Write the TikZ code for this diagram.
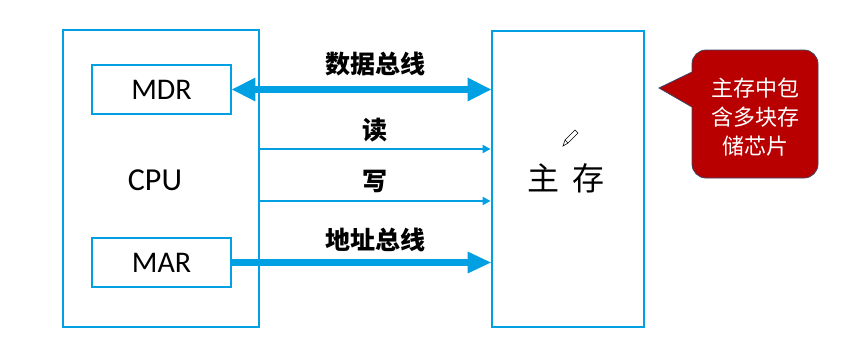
\documentclass[tikz,border=0pt]{standalone}
\usepackage{fontspec}
\setmainfont{Carlito}
\newfontfamily\cjk{Noto Sans CJK SC}
\usetikzlibrary{arrows.meta}
\definecolor{busblue}{RGB}{0,160,226}
\definecolor{calloutred}{RGB}{185,0,0}
\definecolor{calloutedge}{RGB}{60,70,100}
\tikzset{
  unitbox/.style={draw=busblue, line width=2.8pt, fill=none},
  regbox/.style={draw=busblue, line width=2.8pt, minimum width=139pt, minimum height=49pt, inner sep=0pt, font=\fontsize{30}{34}\selectfont},
  fatbus/.style={draw=busblue, line width=7.5pt},
  thinbus/.style={draw=busblue, line width=2pt, -{Triangle[length=8pt,width=8pt]}},
  buslabel/.style={font=\cjk\bfseries\fontsize{25}{29}\selectfont, inner sep=0pt},
}
\begin{document}
\begin{tikzpicture}[x=1pt,y=-1pt]
\useasboundingbox (0,0) rectangle (845,357);
% CPU
\draw[unitbox] (63,30) rectangle (259,327);
\coordinate (cpuR1) at (259,149);
\coordinate (cpuR2) at (259,201);
\node[regbox] (mdr) at (161.5,89.5) {MDR};
\node[regbox] (mar) at (161.5,262.5) {MAR};
\node[font=\fontsize{32}{36}\selectfont, inner sep=0pt] (cpu) at (155,180) {CPU};
% main memory
\node[draw=busblue, line width=2.8pt, minimum width=152pt, minimum height=296pt, inner sep=0pt] (mem) at (568,179) {};
\node[font=\cjk\fontsize{32}{36}\selectfont, inner sep=0pt] (memlabel) at (566,178) {主\hspace{14pt}存};
% buses
\draw[fatbus, {Triangle[length=24pt,width=22pt]}-{Triangle[length=24pt,width=22pt]}, shorten <=-1pt, shorten >=-1pt] (mdr.east) -- (mdr.east -| mem.west);
\draw[fatbus, -{Triangle[length=24pt,width=20pt]}, shorten >=-1pt] (mar.east) -- (mar.east -| mem.west);
\draw[thinbus] (cpuR1) -- (cpuR1 -| mem.west);
\draw[thinbus] (cpuR2) -- (cpuR2 -| mem.west);
\node[buslabel] (l1) at (375,64) {数据总线};
\node[buslabel] (l2) at (375,130) {读};
\node[buslabel] (l3) at (375,181) {写};
\node[buslabel] (l4) at (375,240) {地址总线};
% pencil
\draw[line width=0.6pt, black] (563,146) -- (565,140) -- (575,130) -- (578,133) -- (568,143) -- cycle;
\draw[line width=0.6pt, black] (565,140) -- (568,143);
% callout
\draw[fill=calloutred, draw=calloutedge, line width=0.8pt, rounded corners=14pt]
  (692,140) -- (692,178) -- (818,178) -- (818,50) -- (692,50) [sharp corners] -- (692,72) -- (659,88) -- (692,107) -- cycle;
\node[font=\cjk\fontsize{22}{29}\selectfont, text=white, align=center, inner sep=0pt] (note) at (755,117) {主存中包\\含多块存\\储芯片};
\end{tikzpicture}
\end{document}
